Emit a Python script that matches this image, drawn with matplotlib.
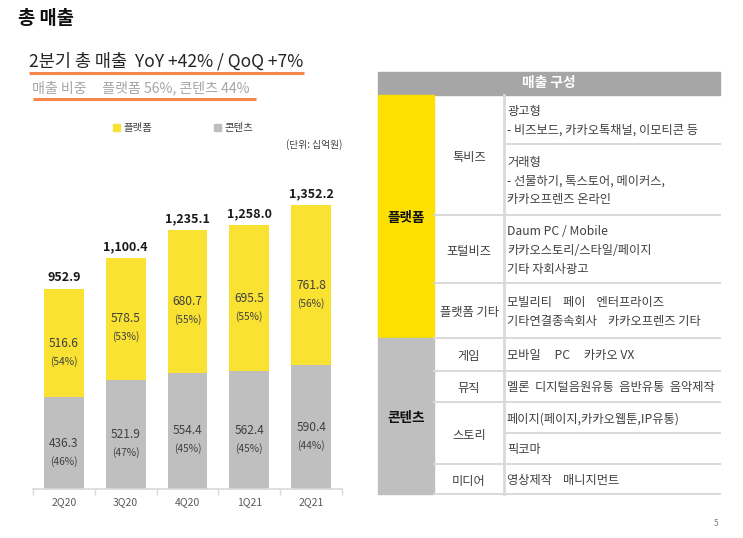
import matplotlib
matplotlib.use("Agg")
import matplotlib.pyplot as plt
from matplotlib.patches import Rectangle

plt.rcParams['font.family'] = ['Noto Sans CJK KR', 'DejaVu Sans']

# ---------------- data ----------------
categories = ['2Q20', '3Q20', '4Q20', '1Q21', '2Q21']
platform = [516.6, 578.5, 680.7, 695.5, 761.8]
content = [436.3, 521.9, 554.4, 562.4, 590.4]
total = [952.9, 1100.4, 1235.1, 1258.0, 1352.2]
platform_pct = [54, 53, 55, 55, 56]
content_pct = [46, 47, 45, 45, 44]

title = '총 매출'
headline = '2분기 총 매출  YoY +42% / QoQ +7%'
subline = '매출 비중     플랫폼 56%, 콘텐츠 44%'
legend_labels = ['플랫폼', '콘텐츠']
unit_label = '(단위: 십억원)'

table_header = '매출 구성'
groups = ['플랫폼', '콘텐츠']
subcats = ['톡비즈', '포털비즈', '플랫폼 기타', '게임', '뮤직', '스토리', '미디어']
detail_cells = [
    ['광고형', '- 비즈보드, 카카오톡채널, 이모티콘 등'],
    ['거래형', '- 선물하기, 톡스토어, 메이커스,', '카카오프렌즈 온라인'],
    ['Daum PC / Mobile', '카카오스토리/스타일/페이지', '기타 자회사광고'],
    ['모빌리티    페이    엔터프라이즈', '기타연결종속회사    카카오프렌즈 기타'],
    ['모바일     PC     카카오 VX'],
    ['멜론  디지털음원유통  음반유통  음악제작'],
    ['페이지(페이지,카카오웹툰,IP유통)'],
    ['픽코마'],
    ['영상제작    매니지먼트'],
]

# ---------------- style ----------------
YELLOW = '#F9E232'
GRAY = '#BFBFBF'
TAB_YELLOW = '#FCE000'
LINE = '#D9D9D9'
DARK = '#404040'
ORANGE = '#F4884A'
TFS = 8.8

W, H = 743, 538
fig = plt.figure(figsize=(W / 100, H / 100), dpi=100)
fig.patch.set_facecolor('white')

# chart axes (pixel layout)
ax_l, ax_r, ax_b, ax_t = 33, 342, 489, 189
ax = fig.add_axes([ax_l / W, 1 - ax_b / H, (ax_r - ax_l) / W, (ax_b - ax_t) / H])
x = list(range(len(categories)))
ax.bar(x, content, width=0.645, color=GRAY, zorder=2)
ax.bar(x, platform, width=0.645, bottom=content, color=YELLOW, zorder=2)
ax.set_xlim(-0.5, len(categories) - 0.5)
ax.set_ylim(0, 1430)
for s in ['top', 'right', 'left']:
    ax.spines[s].set_visible(False)
ax.spines['bottom'].set_color(LINE)
ax.spines['bottom'].set_linewidth(1.2)
ax.set_yticks([])
ax.set_xticks([i - 0.5 for i in range(len(categories) + 1)])
ax.set_xticklabels([])
ax.tick_params(axis='x', which='major', length=4, color=LINE, width=1)
ax.set_xticks(x, minor=True)
ax.set_xticklabels(categories, minor=True, fontsize=7.5, color='#595959')
ax.tick_params(axis='x', which='minor', length=0, pad=6)

for i in x:
    cmid = content[i] / 2
    pmid = content[i] + platform[i] / 2
    ax.annotate(f'{content[i]:.1f}', (i, cmid), ha='center', va='center',
                fontsize=8.6, color=DARK, zorder=3)
    ax.annotate(f'({content_pct[i]}%)', (i, cmid), xytext=(0, -13), textcoords='offset points',
                ha='center', va='center', fontsize=7.3, color=DARK, zorder=3)
    ax.annotate(f'{platform[i]:.1f}', (i, pmid), ha='center', va='center',
                fontsize=8.6, color=DARK, zorder=3)
    ax.annotate(f'({platform_pct[i]}%)', (i, pmid), xytext=(0, -13), textcoords='offset points',
                ha='center', va='center', fontsize=7.3, color=DARK, zorder=3)
    ax.annotate(f'{total[i]:,.1f}', (i, total[i]), xytext=(0, 8), textcoords='offset points',
                ha='center', va='center', fontsize=9, fontweight='bold', color='#1a1a1a',
                annotation_clip=False)

# overlay in pixel coords
ov = fig.add_axes([0, 0, 1, 1], zorder=-1)
ov.set_xlim(0, W)
ov.set_ylim(H, 0)
ov.axis('off')

ov.text(18, 19, title, fontsize=13.5, fontweight='bold', color='#111111', va='center', ha='left')
ov.text(29, 61, headline, fontsize=12.6, color='#262626', va='center', ha='left')
ov.plot([29, 304], [72.5, 72.5], color=ORANGE, lw=2.2, solid_capstyle='butt')
ov.text(32, 88, subline, fontsize=10.1, color='#A6A6A6', va='center', ha='left')
ov.plot([33, 256], [98.5, 98.5], color=ORANGE, lw=2.2, solid_capstyle='butt')

# legend
ov.add_patch(Rectangle((113, 124), 7, 7, color=YELLOW))
ov.text(123, 128, legend_labels[0], fontsize=7.5, color=DARK, va='center', ha='left')
ov.add_patch(Rectangle((214, 124), 7, 7, color=GRAY))
ov.text(224, 128, legend_labels[1], fontsize=7.5, color=DARK, va='center', ha='left')
ov.text(342, 145, unit_label, fontsize=7.0, color=DARK, va='center', ha='right')

# ---------------- table ----------------
c0, c1, c2, c3 = 378, 434, 504, 720
ov.add_patch(Rectangle((c0, 72), c3 - c0, 23, color='#A6A6A6'))
ov.text((c0 + c3) / 2, 83.5, table_header, fontsize=9.9, fontweight='bold', color='white',
        ha='center', va='center')

rows = [95, 144, 215, 283, 338, 371, 402, 433, 464, 494]
ov.add_patch(Rectangle((c0, 95), c1 - c0, 338 - 95, color=TAB_YELLOW))
ov.add_patch(Rectangle((c0, 338), c1 - c0, 494 - 338, color=GRAY))
ov.text((c0 + c1) / 2, 218, groups[0], fontsize=9.8, fontweight='bold', color='#111111',
        ha='center', va='center')
ov.text((c0 + c1) / 2, 418, groups[1], fontsize=9.8, fontweight='bold', color='#111111',
        ha='center', va='center')

# sub-category row spans (indices into rows)
sub_spans = [(0, 2), (2, 3), (3, 4), (4, 5), (5, 6), (6, 8), (8, 9)]
for name, (a, b) in zip(subcats, sub_spans):
    yc = (rows[a] + rows[b]) / 2 + 2
    ov.text((c1 + c2) / 2, yc, name, fontsize=TFS, color=DARK, ha='center', va='center')
    ov.plot([c1, c3], [rows[b], rows[b]], color=LINE, lw=1.4)
# detail-only separators
for r in [1, 7]:
    ov.plot([c2, c3], [rows[r], rows[r]], color=LINE, lw=1.4)
ov.plot([c2, c2], [95, 494], color=LINE, lw=2)

for k, lines in enumerate(detail_cells):
    yc = (rows[k] + rows[k + 1]) / 2 + 1.5
    n = len(lines)
    for j, t in enumerate(lines):
        y = yc + (j - (n - 1) / 2) * 18.8
        ov.text(c2 + 3, y, t, fontsize=TFS, color=DARK, ha='left', va='center')

ov.text(716, 523, '5', fontsize=6, color='#7F7F7F', ha='center', va='center')

fig.savefig('out.png', dpi=100, facecolor='white')
